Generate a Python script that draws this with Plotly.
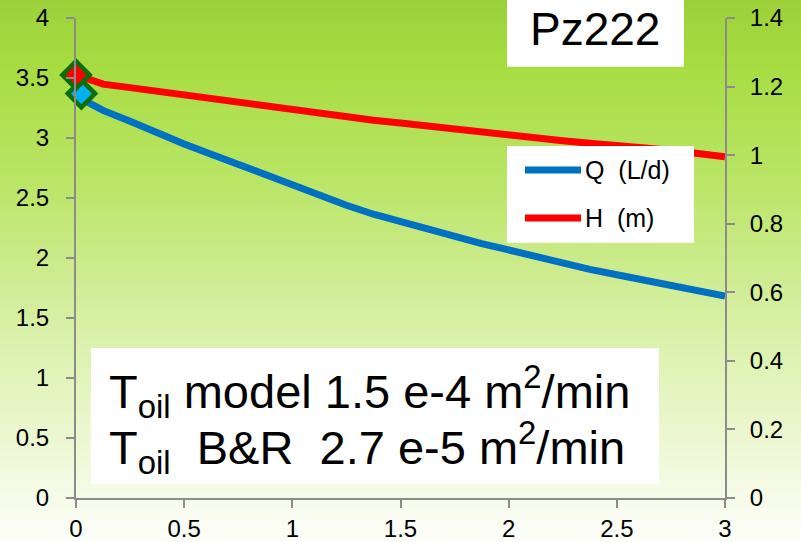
import base64
import struct
import zlib

import plotly.graph_objects as go

# ---------------- data ----------------
time_h = [0, 0.125, 0.25, 0.375, 0.5, 0.625, 0.75, 0.875, 1.0, 1.125, 1.25, 1.375, 1.5,
          1.625, 1.75, 1.875, 2.0, 2.125, 2.25, 2.375, 2.5, 2.625, 2.75, 2.875, 3.0]
q_ld = [3.35, 3.23, 3.14, 3.04, 2.95, 2.865, 2.78, 2.69, 2.60, 2.52, 2.44, 2.365, 2.30,
        2.235, 2.175, 2.12, 2.067, 2.01, 1.955, 1.905, 1.86, 1.815, 1.77, 1.725, 1.683]
h_m = [1.234, 1.207, 1.197, 1.186, 1.175, 1.165, 1.154, 1.142, 1.131, 1.121, 1.111, 1.102, 1.094,
       1.085, 1.075, 1.064, 1.055, 1.048, 1.042, 1.035, 1.029, 1.022, 1.014, 1.005, 0.995]

q_obs_t = [0.025]
q_obs = [3.37]
h_obs_t = [0.0]
h_obs = [1.234]

series_names = ["Q\u00a0\u00a0(L/d)", "H\u00a0\u00a0(m)"]
title_text = "Pz222"
note_lines = ["T<sub>oil</sub> model 1.5 e-4 m<sup>2</sup>/min",
              "T<sub>oil</sub>\u00a0\u00a0B&amp;R\u00a0\u00a02.7 e-5 m<sup>2</sup>/min"]

# ---------------- geometry ----------------
W, H = 801, 542
L, R, T, B = 76, 76, 18, 44
PW, PH = W - L - R, H - T - B


def px(p):
    return (p - L) / PW


def py(p):
    return (H - B - p) / PH


FONT = "Arial, Liberation Sans, sans-serif"
BLUE = "#0070c0"
RED = "#ff0000"
DKGREEN = "#0b6e0b"
AXIS = "#8c8c8c"

# ---------------- gradient background (PNG) ----------------
stops = [(0, (156, 208, 58)), (60, (166, 220, 64)), (180, (186, 229, 102)),
         (270, (205, 235, 142)), (345, (219, 242, 174)), (420, (233, 246, 202)),
         (500, (247, 251, 234)), (542, (253, 254, 250))]


def col_at(y):
    for (y0, c0), (y1, c1) in zip(stops[:-1], stops[1:]):
        if y0 <= y <= y1:
            f = (y - y0) / (y1 - y0) if y1 > y0 else 0
            return tuple(int(round(a + (b - a) * f)) for a, b in zip(c0, c1))
    return stops[-1][1]


def png_gradient(w, h):
    raw = b""
    for y in range(h):
        c = col_at(y)
        raw += b"\x00" + bytes(c) * w

    def chunk(tag, data):
        return struct.pack(">I", len(data)) + tag + data + struct.pack(">I", zlib.crc32(tag + data) & 0xffffffff)

    ihdr = struct.pack(">IIBBBBB", w, h, 8, 2, 0, 0, 0)
    png = b"\x89PNG\r\n\x1a\n" + chunk(b"IHDR", ihdr) + chunk(b"IDAT", zlib.compress(raw, 9)) + chunk(b"IEND", b"")
    return "data:image/png;base64," + base64.b64encode(png).decode()


bg_src = png_gradient(8, H)

fig = go.Figure()

fig.add_trace(go.Scatter(x=time_h, y=q_ld, mode="lines", name=series_names[0],
                         line=dict(color=BLUE, width=7), yaxis="y", showlegend=False))
fig.add_trace(go.Scatter(x=time_h, y=h_m, mode="lines", name=series_names[1],
                         line=dict(color=RED, width=7), yaxis="y2", showlegend=False))
fig.add_trace(go.Scatter(x=h_obs_t, y=h_obs, mode="markers", yaxis="y2", showlegend=False,
                         cliponaxis=False,
                         marker=dict(symbol="diamond", size=21, color=RED,
                                     line=dict(color=DKGREEN, width=4.5))))
fig.add_trace(go.Scatter(x=q_obs_t, y=q_obs, mode="markers", yaxis="y", showlegend=False,
                         cliponaxis=False,
                         marker=dict(symbol="diamond", size=21, color="#00b0f0",
                                     line=dict(color=DKGREEN, width=4.5))))

shapes = [
    dict(type="rect", xref="paper", yref="paper", x0=px(507), x1=px(684), y0=py(0), y1=py(66.7),
         fillcolor="white", line=dict(width=0), layer="above"),
    dict(type="rect", xref="paper", yref="paper", x0=px(507), x1=px(694), y0=py(146), y1=py(242.7),
         fillcolor="white", line=dict(width=0), layer="above"),
    dict(type="rect", xref="paper", yref="paper", x0=px(91), x1=px(659), y0=py(348), y1=py(484),
         fillcolor="white", line=dict(width=0), layer="above"),
    dict(type="line", xref="paper", yref="paper", x0=px(525), x1=px(581), y0=py(170), y1=py(170),
         line=dict(color=BLUE, width=7), layer="above"),
    dict(type="line", xref="paper", yref="paper", x0=px(525), x1=px(581), y0=py(218), y1=py(218),
         line=dict(color=RED, width=7), layer="above"),
]

annotations = [
    dict(text=title_text, xref="paper", yref="paper", x=px(595), y=py(29), xanchor="center",
         yanchor="middle", showarrow=False, font=dict(family=FONT, size=46, color="black")),
    dict(text=series_names[0], xref="paper", yref="paper", x=px(583), y=py(170), xanchor="left",
         yanchor="middle", showarrow=False, font=dict(family=FONT, size=25, color="black")),
    dict(text=series_names[1], xref="paper", yref="paper", x=px(583), y=py(218), xanchor="left",
         yanchor="middle", showarrow=False, font=dict(family=FONT, size=25, color="black")),
    dict(text=note_lines[0], xref="paper", yref="paper", x=px(107), y=py(391), xanchor="left",
         yanchor="middle", showarrow=False, font=dict(family=FONT, size=47, color="black")),
    dict(text=note_lines[1], xref="paper", yref="paper", x=px(107), y=py(447), xanchor="left",
         yanchor="middle", showarrow=False, font=dict(family=FONT, size=47, color="black")),
]

axis_common = dict(showgrid=False, zeroline=False, showline=True, linecolor=AXIS, linewidth=2,
                   ticks="outside", ticklen=8, tickwidth=2, tickcolor=AXIS, automargin=False,
                   tickfont=dict(family=FONT, size=24, color="black"))

fig.update_layout(
    width=W, height=H,
    margin=dict(l=L, r=R, t=T, b=B, pad=0, autoexpand=False),
    paper_bgcolor="white",
    plot_bgcolor="rgba(0,0,0,0)",
    showlegend=False,
    xaxis=dict(range=[0, 3], dtick=0.5, tick0=0, ticklabelstandoff=0, **axis_common),
    yaxis=dict(range=[0, 4], dtick=0.5, tick0=0, ticklabelstandoff=12, **axis_common),
    yaxis2=dict(range=[0, 1.4], dtick=0.2, tick0=0, overlaying="y", side="right",
                ticklabelstandoff=10, **axis_common),
    shapes=shapes,
    annotations=annotations,
    images=[dict(source=bg_src, xref="paper", yref="paper", x=px(0), y=py(0),
                 sizex=W / PW, sizey=H / PH, sizing="stretch", layer="below",
                 xanchor="left", yanchor="top")],
)

fig.write_html("out.html")
